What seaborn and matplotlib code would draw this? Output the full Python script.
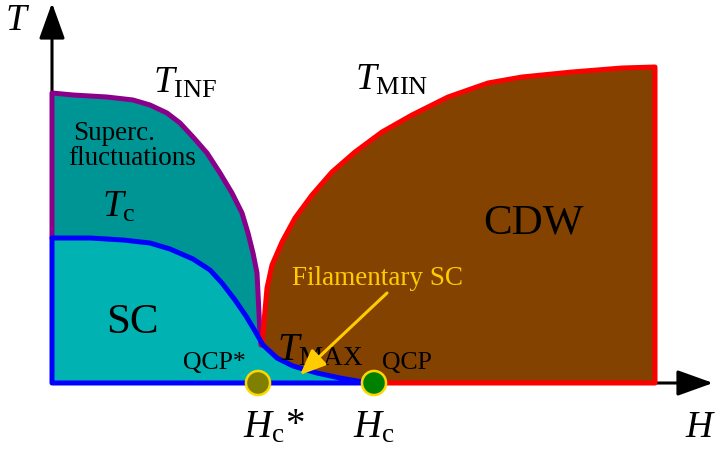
import numpy as np
import pandas as pd
import matplotlib
matplotlib.use("Agg")
import matplotlib.pyplot as plt
import seaborn as sns

# Curvas do diagrama de fases (H, T) - origem no canto dos eixos
h_inf = [0, 0, 21, 55, 81, 98, 115, 128, 141, 155, 168, 180, 190, 196, 201, 205, 206, 207, 208, 209]
t_inf = [145, 290, 288, 286, 283, 278, 270, 260, 246, 230, 210, 190, 170, 150, 130, 110, 90, 70, 50, 38]

h_tc = [311, 0, 0, 38, 71, 98, 118, 141, 158, 170, 183, 194, 203, 211, 225, 241, 265, 288, 311]
t_tc = [0, 0, 145, 145, 143, 140, 134, 124, 113, 100, 83, 67, 52, 38, 25, 17, 10, 5, 1]

h_min = [210, 212, 215, 220, 230, 243, 260, 280, 303, 330, 360, 396, 436, 470, 520, 570, 603, 603, 311]
t_min = [38, 61, 95, 118, 141, 165, 188, 211, 231, 251, 268, 286, 300, 306, 311, 315, 316, 0, 0]

# Pontos criticos quanticos
h_qcp = [206, 322]
t_qcp = [0, 0]
cores_qcp = ["#808000", "#008000"]

sns.set_theme(style="white")
plt.rcParams["font.family"] = ["Liberation Serif", "DejaVu Serif"]
plt.rcParams["text.color"] = "black"
plt.rcParams["mathtext.fontset"] = "custom"
plt.rcParams["mathtext.rm"] = "Liberation Serif"
plt.rcParams["mathtext.it"] = "Liberation Serif:italic"

fig = plt.figure(figsize=(7.15, 4.51), dpi=100)
ax = fig.add_axes([0, 0, 1, 1])
ax.set_xlim(-52, 663)
ax.set_ylim(-68, 383)
ax.axis("off")

# Regioes preenchidas
ax.fill(h_inf[1:] + [210, 0], t_inf[1:] + [0, 0], color="#009595", lw=0, zorder=1)
ax.fill(h_min[:-1] + [210], t_min[:-1] + [0], color="#844200", lw=0, zorder=1)
ax.fill(h_tc[2:] + [311, 0], t_tc[2:] + [0, 0], color="#00b2b2", lw=0, zorder=2)

# Eixos com setas
seta = "-|>,head_length=1.0,head_width=0.36"
ax.annotate("", xy=(661, 0), xytext=(0, 0),
            arrowprops=dict(arrowstyle=seta, mutation_scale=22, color="black", lw=2.2,
                            shrinkA=0, shrinkB=0), zorder=3)
ax.annotate("", xy=(0, 380), xytext=(0, 0),
            arrowprops=dict(arrowstyle=seta, mutation_scale=22, color="black", lw=2.2,
                            shrinkA=0, shrinkB=0), zorder=3)

# Linhas de fronteira
sns.lineplot(x=h_inf, y=t_inf, sort=False, estimator=None, color="#8b008b", lw=3.6,
             solid_joinstyle="round", ax=ax, zorder=4)
sns.lineplot(x=h_min, y=t_min, sort=False, estimator=None, color="#ff0000", lw=3.6,
             solid_joinstyle="round", ax=ax, zorder=4)
sns.lineplot(x=h_tc, y=t_tc, sort=False, estimator=None, color="#0000ff", lw=3.6,
             solid_joinstyle="round", ax=ax, zorder=5)

# Pontos QCP
df_qcp = pd.DataFrame({"H": h_qcp, "T": t_qcp, "tipo": ["QCP*", "QCP"]})
sns.scatterplot(data=df_qcp, x="H", y="T", hue="tipo", palette=cores_qcp, s=300,
                edgecolor="#ffd700", linewidth=1.8, legend=False, ax=ax, zorder=6)

# Textos
ax.text(-47, 353, r"$T$", fontsize=27, ha="left", va="baseline")
ax.text(633, -54, r"$H$", fontsize=27, ha="left", va="baseline")
ax.text(101, 290, r"$T_\mathrm{INF}$", fontsize=27, ha="left", va="baseline")
ax.text(303, 293, r"$T_\mathrm{MIN}$", fontsize=27, ha="left", va="baseline")
ax.text(50, 166, r"$T_\mathrm{c}$", fontsize=27, ha="left", va="baseline", zorder=7)
ax.text(225, 23, r"$T_\mathrm{MAX}$", fontsize=28, ha="left", va="baseline", zorder=7)
ax.text(21, 243, "Superc.", fontsize=19.5, ha="left", va="baseline", zorder=7)
ax.text(16, 218, "fluctuations", fontsize=19.5, ha="left", va="baseline", zorder=7)
ax.text(54, 50, "SC", fontsize=31, ha="left", va="baseline", zorder=7)
ax.text(431, 150, "CDW", fontsize=31, ha="left", va="baseline", zorder=7)
ax.text(240, 98, "Filamentary SC", fontsize=19.5, color="#ffcc00", ha="left", va="baseline", zorder=7)
ax.text(131, 14, "QCP*", fontsize=18.5, ha="left", va="baseline", zorder=7)
ax.text(330, 14, "QCP", fontsize=18.5, ha="left", va="baseline", zorder=7)
ax.text(191, -54, r"$H_\mathrm{c}$", fontsize=28, ha="left", va="baseline")
ax.text(233, -52, "*", fontsize=28, ha="left", va="baseline")
ax.text(301, -54, r"$H_\mathrm{c}$", fontsize=28, ha="left", va="baseline")

# Seta do SC filamentar
ax.annotate("", xy=(248, 8), xytext=(335, 90),
            arrowprops=dict(arrowstyle="-|>,head_length=1.3,head_width=0.55",
                            mutation_scale=12, color="#ffcc00", lw=2.2, shrinkA=0, shrinkB=0),
            zorder=7)

plt.savefig("out.png", dpi=100)
